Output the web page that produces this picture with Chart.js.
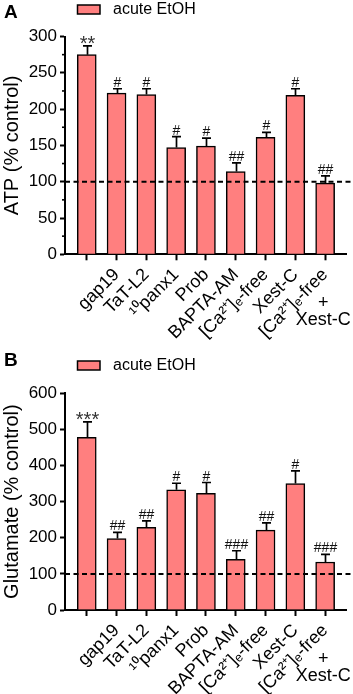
<!DOCTYPE html>
<html><head><meta charset="utf-8">
<script src="https://cdn.jsdelivr.net/npm/chart.js@4/dist/chart.umd.min.js"></script>
<style>
html,body{margin:0;padding:0;background:#fff;overflow:hidden}
.p{position:relative;width:353px;height:347px}
canvas{display:block}
</style>
</head><body>
<div class="p"><canvas id="chartA" width="353" height="347"></canvas></div>
<div class="p"><canvas id="chartB" width="353" height="347"></canvas></div>
<script>
// ---------- data ----------
const categories = ['', 'gap19', 'TaT-L2', '\u00B9\u2070panx1', 'Prob', 'BAPTA-AM', '[Ca\u00B2\u207A]\u2091-free', 'Xest-C', '[Ca\u00B2\u207A]\u2091-free'];
const lastLabelExtra = ['+', 'Xest-C'];
const seriesLabel = 'acute EtOH';

const atpValues = [275, 222, 220, 147, 149, 114, 161, 219, 98];
const atpErrors = [12, 6, 8, 15, 11, 12, 7, 9, 10];
const atpMarks  = ['**', '#', '#', '#', '#', '##', '#', '#', '##'];
const atpTicks  = [0, 50, 100, 150, 200, 250, 300];
const atpMinorTicks = [25, 75, 125, 175, 225, 275];

const gluValues = [478, 198, 229, 333, 323, 140, 221, 350, 133];
const gluErrors = [43, 17, 18, 18, 30, 24, 20, 35, 21];
const gluMarks  = ['***', '##', '##', '#', '#', '###', '##', '#', '###'];
const gluTicks  = [0, 100, 200, 300, 400, 500, 600];
const gluMinorTicks = [];

const controlLevel = 100;

// ---------- style ----------
const FONT = "'Liberation Sans', Arial, Helvetica, sans-serif";
const FILL = '#FF7F7F';
Chart.defaults.font.family = FONT;
Chart.defaults.color = '#000';

const decor = {
  id: 'decor',
  afterDatasetsDraw(chart, args, o) {
    const {ctx, chartArea} = chart;
    const xs = chart.scales.x, ys = chart.scales.y;
    const ds = chart.data.datasets[0];
    ctx.save();
    ctx.strokeStyle = '#000';
    ctx.lineWidth = 1.7;
    ctx.textAlign = 'center';
    ctx.textBaseline = 'alphabetic';
    ds.data.forEach((p, i) => {
      const px = Math.round(xs.getPixelForValue(p.x)) + 0.5;
      const y0 = ys.getPixelForValue(p.y);
      const y1 = ys.getPixelForValue(p.y + o.errors[i]);
      ctx.beginPath();
      ctx.moveTo(px, y0);
      ctx.lineTo(px, y1);
      ctx.moveTo(px - 4.5, y1);
      ctx.lineTo(px + 4.5, y1);
      ctx.stroke();
      const m = o.marks[i];
      if (m.indexOf('*') >= 0) {
        ctx.font = '20px ' + FONT;
        ctx.fillStyle = '#333';
        ctx.fillText(m, px, y1 + 4);
      } else {
        ctx.font = '14px ' + FONT;
        ctx.fillStyle = '#111';
        ctx.fillText(m, px, y1 - 2);
      }
    });
    const yc = ys.getPixelForValue(controlLevel);
    ctx.setLineDash([5, 3.5]);
    ctx.lineWidth = 2;
    ctx.beginPath();
    ctx.moveTo(chartArea.left, yc);
    ctx.lineTo(chart.width, yc);
    ctx.stroke();
    ctx.setLineDash([]);
    ctx.lineWidth = 1.6;
    o.minor.forEach(v => {
      const yy = ys.getPixelForValue(v);
      ctx.beginPath();
      ctx.moveTo(chartArea.left - 3, yy);
      ctx.lineTo(chartArea.left, yy);
      ctx.stroke();
    });
    ctx.restore();
  },
  afterDraw(chart, args, o) {
    const {ctx, chartArea} = chart;
    const xs = chart.scales.x;
    const ds = chart.data.datasets[0];
    ctx.save();
    ctx.font = 'bold 19px ' + FONT;
    ctx.fillStyle = '#000';
    ctx.textAlign = 'left';
    ctx.textBaseline = 'alphabetic';
    ctx.fillText(o.letter, 4, o.letterBase);
    ctx.fillStyle = ds.backgroundColor;
    ctx.fillRect(77.5, o.legendTop, 22.5, 9);
    ctx.strokeStyle = '#000';
    ctx.lineWidth = 1.5;
    ctx.strokeRect(77.5, o.legendTop, 22.5, 9);
    ctx.fillStyle = '#000';
    ctx.font = '16px ' + FONT;
    ctx.textBaseline = 'middle';
    ctx.fillText(ds.label, 113, o.legendTop + 5);
    const lx = xs.getPixelForValue(categories.length - 1) - 2;
    ctx.textAlign = 'center';
    ctx.font = '18px ' + FONT;
    ctx.fillText(lastLabelExtra[0], lx, chartArea.bottom + 49);
    ctx.fillText(lastLabelExtra[1], lx, chartArea.bottom + 66);
    ctx.restore();
  }
};

function makeChart(id, c) {
  return new Chart(document.getElementById(id), {
    type: 'bar',
    data: {
      datasets: [{
        label: seriesLabel,
        data: c.values.map((v, i) => ({x: i, y: v})),
        backgroundColor: FILL,
        borderColor: '#000',
        borderWidth: 1.5,
        barThickness: 19
      }]
    },
    plugins: [decor],
    options: {
      responsive: false,
      animation: false,
      layout: {padding: {top: c.top, right: 7, left: 0, bottom: 0}},
      plugins: {
        legend: {display: false},
        tooltip: {enabled: false},
        decor: {errors: c.errors, marks: c.marks, minor: c.minor, letter: c.letter,
                letterBase: c.letterBase, legendTop: c.legendTop}
      },
      scales: {
        x: {
          type: 'linear',
          min: -0.73, max: 8.7,
          offset: false,
          afterBuildTicks: s => { s.ticks = categories.map((_, i) => ({value: i})); },
          afterFit: s => { s.height = 347 - c.bottom; },
          ticks: {
            autoSkip: false, minRotation: 45, maxRotation: 45, padding: 4,
            font: {size: 18}, color: '#000',
            callback: v => categories[v]
          },
          grid: {display: true, offset: false, drawOnChartArea: false, drawTicks: true,
                 tickLength: 6, tickWidth: 2, tickColor: '#000'},
          border: {display: true, color: '#000', width: 2}
        },
        y: {
          min: c.ticks[0], max: c.ticks[c.ticks.length - 1],
          afterBuildTicks: s => { s.ticks = c.ticks.map(v => ({value: v})); },
          afterFit: s => { s.width = 65; },
          ticks: {font: {size: 17}, color: '#000', padding: 3},
          grid: {display: true, drawOnChartArea: false, drawTicks: true,
                 tickLength: 5, tickWidth: 2, tickColor: '#000'},
          border: {display: true, color: '#000', width: 2},
          title: {display: true, text: c.title, font: {size: 20}, color: '#000', padding: {top: 0, bottom: 0}}
        }
      }
    }
  });
}

makeChart('chartA', {values: atpValues, errors: atpErrors, marks: atpMarks, ticks: atpTicks,
  minor: atpMinorTicks, title: 'ATP (% control)', letter: 'A', letterBase: 18, legendTop: 5,
  top: 36.5, bottom: 254.3});
makeChart('chartB', {values: gluValues, errors: gluErrors, marks: gluMarks, ticks: gluTicks,
  minor: gluMinorTicks, title: 'Glutamate (% control)', letter: 'B', letterBase: 19, legendTop: 14,
  top: 46.3, bottom: 263});
</script>
</body></html>
